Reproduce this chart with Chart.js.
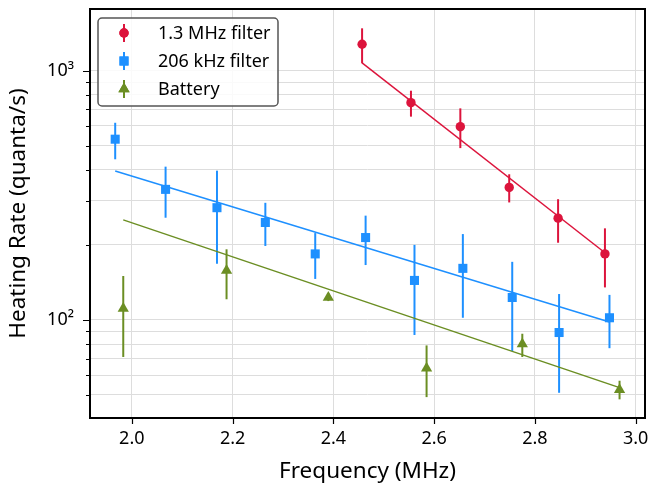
<!DOCTYPE html>
<html>
<head>
<meta charset="utf-8">
<script src="https://cdn.jsdelivr.net/npm/chart.js@4.4.1/dist/chart.umd.min.js"></script>
<style>
  html, body { margin: 0; background: #fff; }
  #wrap { width: 652px; height: 485px; }
</style>
</head>
<body>
<div id="wrap"><canvas id="c"></canvas></div>
<script>
// 1.3 MHz filter
const mhzX = [2.457, 2.554, 2.652, 2.749, 2.846, 2.939];
const mhzY = [1276, 744, 596, 340, 256, 184];
const mhzLo = [1071, 654, 489, 296, 204, 135];
const mhzHi = [1479, 831, 706, 384, 305, 233];
const mhzFitX = [2.457, 2.939];
const mhzFitY = [1074, 186];

// 206 kHz filter
const khzX = [1.967, 2.067, 2.169, 2.265, 2.364, 2.464, 2.561, 2.657, 2.755, 2.848, 2.948];
const khzY = [531, 334, 282, 246, 184, 214, 144, 161, 123, 89, 102];
const khzLo = [441, 257, 168, 198, 146, 166, 87, 102, 75, 51, 77];
const khzHi = [618, 412, 397, 295, 223, 262, 200, 221, 171, 127, 126];
const khzFitX = [1.967, 2.948];
const khzFitY = [396, 98];

// Battery
const batX = [1.983, 2.188, 2.390, 2.585, 2.775, 2.968];
const batY = [111, 158, 123, 64, 80, 52.4];
const batLo = [71, 121, 119, 49, 71, 48];
const batHi = [150, 192, 128, 79, 88, 57];
const batFitX = [1.983, 2.968];
const batFitY = [252, 53.5];

const xTicks = [2.0, 2.2, 2.4, 2.6, 2.8, 3.0];
const yMajor = [100, 1000];
const yMinor = [50, 60, 70, 80, 90, 200, 300, 400, 500, 600, 700, 800, 900];
const yLabels = { 100: '10²', 1000: '10³' };

const RED = '#dc143c', BLUE = '#1e90ff', GREEN = '#6b8e23';
const pts = (xs, ys) => xs.map((x, i) => ({ x, y: ys[i] }));

const series = [
  { label: '1.3 MHz filter', color: RED, style: 'circle', r: 4.7, x: mhzX, y: mhzY, lo: mhzLo, hi: mhzHi, fx: mhzFitX, fy: mhzFitY },
  { label: '206 kHz filter', color: BLUE, style: 'rect', r: 6.4, x: khzX, y: khzY, lo: khzLo, hi: khzHi, fx: khzFitX, fy: khzFitY },
  { label: 'Battery', color: GREEN, style: 'triangle', r: 6.5, x: batX, y: batY, lo: batLo, hi: batHi, fx: batFitX, fy: batFitY },
];

const datasets = [];
series.forEach(s => {
  datasets.push({ type: 'line', data: pts(s.fx, s.fy), borderColor: s.color, borderWidth: 1.5, pointRadius: 0, fill: false, order: 2 });
  datasets.push({ type: 'scatter', label: s.label, data: pts(s.x, s.y), pointStyle: s.style, pointRadius: s.r, pointHoverRadius: s.r,
    backgroundColor: s.color, borderColor: s.color, borderWidth: 0, order: 1 });
});

const extras = {
  id: 'extras',
  beforeDatasetsDraw(chart) {
    const { ctx, scales: { x, y } } = chart;
    ctx.save();
    ctx.lineWidth = 2;
    series.forEach(s => {
      ctx.strokeStyle = s.color;
      s.x.forEach((xv, i) => {
        const px = x.getPixelForValue(xv);
        ctx.beginPath();
        ctx.moveTo(px, y.getPixelForValue(s.lo[i]));
        ctx.lineTo(px, y.getPixelForValue(s.hi[i]));
        ctx.stroke();
      });
    });
    ctx.restore();
  },
  afterDraw(chart) {
    const { ctx, chartArea: a, scales: { x, y } } = chart;
    ctx.save();
    // ticks
    ctx.strokeStyle = '#000';
    ctx.lineWidth = 1.2;
    ctx.beginPath();
    xTicks.forEach(v => { const p = Math.round(x.getPixelForValue(v)) + 0.5; ctx.moveTo(p, a.bottom); ctx.lineTo(p, a.bottom + 6); });
    yMajor.forEach(v => { const p = Math.round(y.getPixelForValue(v)) + 0.5; ctx.moveTo(a.left, p); ctx.lineTo(a.left - 7, p); });
    yMinor.forEach(v => { const p = Math.round(y.getPixelForValue(v)) + 0.5; ctx.moveTo(a.left, p); ctx.lineTo(a.left - 4, p); });
    ctx.stroke();
    // frame
    ctx.lineWidth = 2;
    ctx.strokeRect(a.left, a.top, a.right - a.left, a.bottom - a.top);
    // legend
    const lx = 98, ly = 18, lw = 180, lh = 88;
    ctx.beginPath();
    ctx.roundRect(lx, ly, lw, lh, 4);
    ctx.fillStyle = 'rgba(255,255,255,0.85)';
    ctx.fill();
    ctx.strokeStyle = '#555';
    ctx.lineWidth = 1.5;
    ctx.stroke();
    ctx.font = '18px "Noto Sans"';
    ctx.textBaseline = 'middle';
    series.forEach((s, i) => {
      const cy = 33 + i * 28, cx = 124;
      ctx.strokeStyle = s.color;
      ctx.lineWidth = 2;
      ctx.beginPath(); ctx.moveTo(cx, cy - 9); ctx.lineTo(cx, cy + 9); ctx.stroke();
      ctx.fillStyle = s.color;
      Chart.helpers.drawPoint(ctx, { pointStyle: s.style, radius: s.r, borderWidth: 0 }, cx, cy);
      ctx.fill();
      ctx.fillStyle = '#000';
      ctx.fillText(s.label, 158, cy + 1);
    });
    ctx.restore();
  }
};

Chart.defaults.font.family = '"Noto Sans", sans-serif';
Chart.defaults.color = '#000';

new Chart(document.getElementById('c'), {
  data: { datasets },
  options: {
    responsive: true, maintainAspectRatio: false, animation: false,
    layout: { padding: { top: 9, right: 7, left: 0, bottom: 0 } },
    plugins: { legend: { display: false }, tooltip: { enabled: false } },
    scales: {
      x: {
        type: 'linear', min: 1.917, max: 3.0185,
        afterBuildTicks: s => { s.ticks = xTicks.map(v => ({ value: v })); },
        afterFit: s => { s.height = 67; s.paddingLeft = 0; s.paddingRight = 0; },
        ticks: { font: { size: 18 }, padding: 10, callback: v => v.toFixed(1), maxRotation: 0 },
        grid: { color: '#dddddd', lineWidth: 1, drawTicks: false },
        border: { display: false },
        title: { display: true, text: 'Frequency (MHz)', font: { size: 22.5 }, padding: { top: 0, bottom: 0 } }
      },
      y: {
        type: 'logarithmic', min: 40.4, max: 1768,
        afterBuildTicks: s => { s.ticks = [...yMinor, ...yMajor].sort((a, b) => a - b).map(v => ({ value: v })); },
        afterFit: s => { s.width = 90; s.paddingTop = 0; s.paddingBottom = 0; },
        ticks: { font: { size: 18 }, padding: 16, autoSkip: false, callback: v => yLabels[v] || '' },
        grid: { color: '#dddddd', lineWidth: 1, drawTicks: false },
        border: { display: false },
        title: { display: true, text: 'Heating Rate (quanta/s)', font: { size: 22.5 }, padding: { top: 5, bottom: 0 } }
      }
    }
  },
  plugins: [extras]
});
</script>
</body>
</html>
